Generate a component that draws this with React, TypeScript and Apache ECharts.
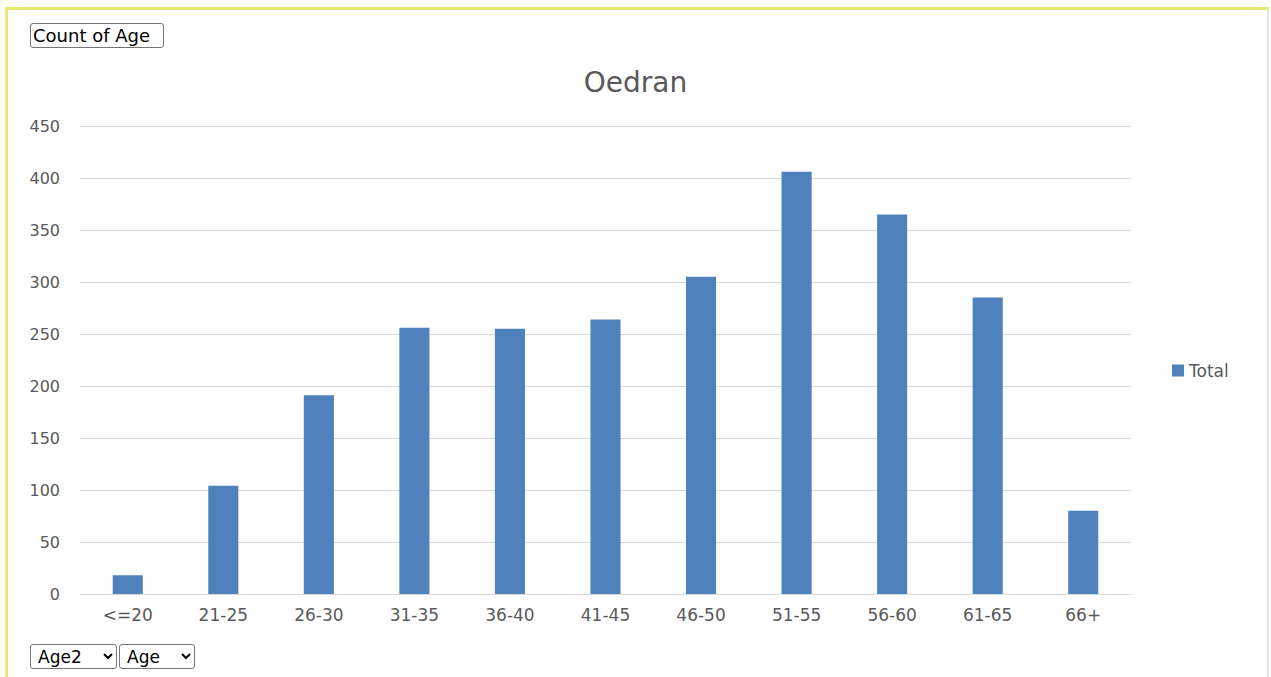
import React, { useEffect, useRef } from "react";
import * as echarts from "echarts";

const categories = ["<=20", "21-25", "26-30", "31-35", "36-40", "41-45", "46-50", "51-55", "56-60", "61-65", "66+"];
const totals = [18, 104, 191, 256, 255, 264, 305, 406, 365, 285, 80];
const seriesName = "Total";
const chartTitle = "Oedran";
const fieldButton = "Count of Age";
const axisFields = ["Age2", "Age"];

const FONT = "'DejaVu Sans', Verdana, sans-serif";

export default function App() {
  const ref = useRef<HTMLDivElement>(null);
  useEffect(() => {
    document.body.style.margin = "0";
    const chart = echarts.init(ref.current!, undefined, { renderer: "svg" });
    chart.setOption({
      animation: false,
      backgroundColor: "transparent",
      title: {
        text: chartTitle,
        left: "center",
        top: 63,
        textStyle: { fontFamily: FONT, fontSize: 28, fontWeight: "normal", color: "#595959" },
      },
      legend: {
        data: [seriesName],
        orient: "vertical",
        left: 1172,
        top: 362,
        padding: 0,
        itemWidth: 12,
        itemHeight: 12,
        icon: "rect",
        textStyle: { fontFamily: FONT, fontSize: 17, color: "#595959" },
      },
      grid: { left: 80, right: 140, top: 126, bottom: 83, containLabel: false },
      xAxis: {
        type: "category",
        data: categories,
        axisLine: { lineStyle: { color: "#D9D9D9", width: 1 } },
        axisTick: { show: false },
        axisLabel: { fontFamily: FONT, fontSize: 17, color: "#595959", margin: 12 },
      },
      yAxis: {
        type: "value",
        min: 0,
        max: 450,
        interval: 50,
        axisLine: { show: false },
        axisTick: { show: false },
        splitLine: { lineStyle: { color: "#D9D9D9", width: 1 } },
        axisLabel: { fontFamily: FONT, fontSize: 16, color: "#595959", margin: 20 },
      },
      series: [
        {
          name: seriesName,
          type: "bar",
          data: totals,
          barWidth: "31.5%",
          itemStyle: { color: "#4F81BD" },
        },
      ],
    });
    return () => chart.dispose();
  }, []);

  const ctrl: React.CSSProperties = {
    position: "absolute",
    fontFamily: FONT,
    color: "#000",
    background: "#fff",
    border: "1px solid #767676",
    borderRadius: 3,
    boxSizing: "border-box",
    padding: "0 3px",
  };

  return (
    <div style={{ position: "absolute", left: 0, top: 0, width: 1271, height: 677, background: "#fff", overflow: "hidden" }}>
      <div style={{ position: "absolute", left: 5, top: 7, width: 1264, height: 680, borderTop: "3px solid #E9E96A", borderLeft: "3px solid #E9E96A", borderRight: "2px solid #E3E3E3", boxSizing: "border-box" }} />
      <div ref={ref} style={{ position: "absolute", left: 0, top: 0, width: 1271, height: 677 }} />
      <div style={{ ...ctrl, left: 30, top: 23, width: 134, height: 25, lineHeight: "23px", fontSize: 18, padding: "0 2px", whiteSpace: "nowrap" }}>{fieldButton}</div>
      <select defaultValue={axisFields[0]} style={{ ...ctrl, left: 30, top: 644, width: 87, height: 25, fontSize: 17 }}>
        <option>{axisFields[0]}</option>
      </select>
      <select defaultValue={axisFields[1]} style={{ ...ctrl, left: 119, top: 644, width: 76, height: 25, fontSize: 17 }}>
        <option>{axisFields[1]}</option>
      </select>
    </div>
  );
}
